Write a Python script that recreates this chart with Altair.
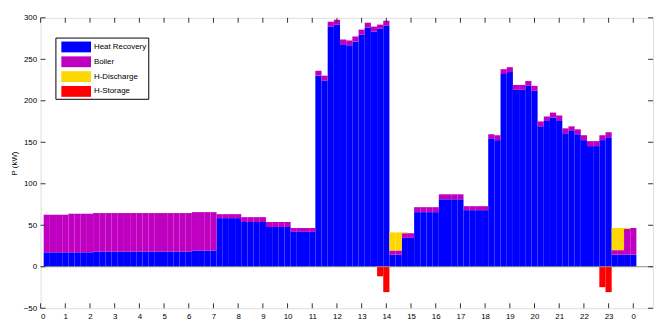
import altair as alt
import pandas as pd

# ---------------- data ----------------
times = [i / 4 for i in range(1, 97)]  # 15-minute slots, bar centres in hours

heat_recovery = [
    17.4, 17.4, 17.4, 17.4, 17.4, 17.4, 17.4, 17.4,
    18.4, 18.4, 18.4, 18.4, 18.4, 18.4, 18.4, 18.4,
    18.4, 18.4, 18.4, 18.4, 18.4, 18.4, 18.4, 18.4,
    19.6, 19.6, 19.6, 19.6, 58.6, 58.6, 58.6, 58.6,
    53.9, 53.9, 53.9, 53.9, 47.9, 47.9, 47.9, 47.9,
    42.0, 42.0, 42.0, 42.0, 230.3, 224.4, 289.4, 291.8,
    268.0, 266.8, 271.6, 279.9, 288.2, 283.5, 287.0, 290.6,
    14.6, 14.6, 34.8, 34.8, 65.8, 65.8, 65.8, 65.8,
    81.3, 81.3, 81.3, 81.3, 68.2, 68.2, 68.2, 68.2,
    154.9, 152.6, 232.2, 234.6, 213.2, 213.2, 218.0, 212.0,
    169.2, 176.4, 179.9, 176.4, 160.9, 164.4, 159.7, 152.6,
    145.4, 145.4, 152.6, 156.1, 14.6, 14.6, 14.6, 14.6,
]

boiler = [
    45.3, 45.3, 45.3, 45.3, 46.5, 46.5, 46.5, 46.5,
    46.3, 46.3, 46.3, 46.3, 46.3, 46.3, 46.3, 46.3,
    46.3, 46.3, 46.3, 46.3, 46.3, 46.3, 46.3, 46.3,
    46.2, 46.2, 46.2, 46.2, 4.8, 4.8, 4.8, 4.8,
    5.9, 5.9, 5.9, 5.9, 6.0, 6.0, 6.0, 6.0,
    4.7, 4.7, 4.7, 4.7, 5.9, 5.9, 5.9, 5.9,
    5.9, 5.9, 5.9, 5.9, 5.9, 5.9, 4.8, 5.9,
    5.0, 5.0, 5.6, 5.6, 6.0, 6.0, 6.0, 6.0,
    6.0, 6.0, 6.0, 6.0, 4.8, 4.8, 4.8, 4.8,
    4.8, 5.9, 5.9, 5.9, 5.9, 5.9, 5.9, 6.0,
    5.9, 4.7, 5.9, 5.9, 5.9, 4.8, 5.9, 5.9,
    6.0, 6.0, 5.9, 6.0, 5.4, 5.4, 30.9, 32.1,
]

h_discharge = [
    0, 0, 0, 0, 0, 0, 0, 0, 0, 0, 0, 0, 0, 0, 0, 0,
    0, 0, 0, 0, 0, 0, 0, 0, 0, 0, 0, 0, 0, 0, 0, 0,
    0, 0, 0, 0, 0, 0, 0, 0, 0, 0, 0, 0, 0, 0, 0, 0,
    0, 0, 0, 0, 0, 0, 0, 0, 21.8, 21.8, 1.2, 0, 0, 0, 0, 0,
    0, 0, 0, 0, 0, 0, 0, 0, 0, 0, 0, 0, 0, 0, 0, 0,
    0, 0, 0, 0, 0, 0, 0, 0, 0, 0, 0, 0, 26.7, 26.7, 1.2, 0,
]

h_storage = [
    0, 0, 0, 0, 0, 0, 0, 0, 0, 0, 0, 0, 0, 0, 0, 0,
    0, 0, 0, 0, 0, 0, 0, 0, 0, 0, 0, 0, 0, 0, 0, 0,
    0, 0, 0, 0, 0, 0, 0, 0, 0, 0, 0, 0, 0, 0, 0, 0,
    0, 0, 0, 0, 0, 0, -11.5, -30.6, 0, 0, 0, 0, 0, 0, 0, 0,
    0, 0, 0, 0, 0, 0, 0, 0, 0, 0, 0, 0, 0, 0, 0, 0,
    0, 0, 0, 0, 0, 0, 0, 0, 0, 0, -24.6, -30.6, 0, 0, 0, 0,
]

series_names = ["Heat Recovery", "Boiler", "H-Discharge", "H-Storage"]
series_colors = ["#0000FF", "#C000C0", "#FFD700", "#FF0000"]

x_tick_values = list(range(0, 25))
y_tick_values = [-50, 0, 50, 100, 150, 200, 250, 300]

# ---------------- table ----------------
rows = []
for k, (name, vals) in enumerate(zip(series_names,
                                     [heat_recovery, boiler, h_discharge, h_storage])):
    for t, v in zip(times, vals):
        if v != 0:
            rows.append({"t": t, "series": name, "order": k, "value": v})
df = pd.DataFrame(rows)

W, H = 620, 294
FONT = "Liberation Sans"
xscale = alt.Scale(domain=[0, 24.8], nice=False, zero=False)
yscale = alt.Scale(domain=[-50, 300], nice=False, zero=False)

xaxis = alt.Axis(values=x_tick_values, ticks=False, domain=False, grid=False,
                 labelExpr="datum.value == 24 ? '0' : datum.label",
                 labelFontSize=8, labelFont=FONT, labelPadding=4,
                 labelColor="black", title=None)
yaxis = alt.Axis(values=y_tick_values, ticks=False, domain=False, grid=False,
                 labelFontSize=8, labelFont=FONT, labelPadding=4,
                 labelColor="black", title="P (kW)", titleFont=FONT,
                 titleFontSize=8, titleFontWeight="normal",
                 titleColor="black", titlePadding=5)

bars = alt.Chart(df).transform_stack(
    stack="value", groupby=["t"], as_=["y0", "y1"],
    sort=[alt.SortField("order", order="ascending")]
).transform_calculate(
    xa="datum.t - 0.125", xb="datum.t + 0.125"
).mark_bar(strokeWidth=0).encode(
    x=alt.X("xa:Q", scale=xscale, axis=xaxis),
    x2="xb:Q",
    y=alt.Y("y0:Q", scale=yscale, axis=yaxis),
    y2="y1:Q",
    color=alt.Color("series:N",
                    scale=alt.Scale(domain=series_names, range=series_colors),
                    legend=alt.Legend(title=None, orient="none", legendX=15, legendY=20,
                                      direction="vertical", strokeColor="black",
                                      fillColor="white", padding=2, symbolOffset=4,
                                      symbolType="M-1,-0.73L3,-0.73L3,0.73L-1,0.73Z",
                                      symbolSize=225, symbolStrokeWidth=0,
                                      symbolOpacity=1, labelFontSize=8,
                                      labelFont=FONT, labelColor="black",
                                      labelOffset=18, rowPadding=2)),
    order=alt.Order("order:Q"),
)

baseline = alt.Chart(pd.DataFrame({"v": [0]})).mark_rule(
    color="#8a8a8a", strokeWidth=1
).encode(y=alt.Y("v:Q", scale=yscale, axis=yaxis))

xt = pd.DataFrame({"h": x_tick_values})
yt = pd.DataFrame({"v": y_tick_values})

xticks_bottom = alt.Chart(xt).mark_rule(color="#333333").encode(
    x=alt.X("h:Q", scale=xscale, axis=xaxis), y=alt.value(H), y2=alt.value(H - 5))
xticks_top = alt.Chart(xt).mark_rule(color="#333333").encode(
    x=alt.X("h:Q", scale=xscale, axis=xaxis), y=alt.value(0), y2=alt.value(5))
yticks_left = alt.Chart(yt).mark_rule(color="#333333").encode(
    y=alt.Y("v:Q", scale=yscale, axis=yaxis), x=alt.value(0), x2=alt.value(5))
yticks_right = alt.Chart(yt).mark_rule(color="#333333").encode(
    y=alt.Y("v:Q", scale=yscale, axis=yaxis), x=alt.value(W), x2=alt.value(W - 5))

chart = alt.layer(
    bars, baseline, xticks_bottom, xticks_top, yticks_left, yticks_right
).properties(
    width=W, height=H,
    autosize=alt.AutoSizeParams(type="none"),
    padding={"left": 33, "top": 8, "right": 4, "bottom": 12},
).configure_view(
    stroke="black", strokeWidth=1
).configure(background="white")

chart.save("out.html", embed_options={"renderer": "svg", "actions": False})
